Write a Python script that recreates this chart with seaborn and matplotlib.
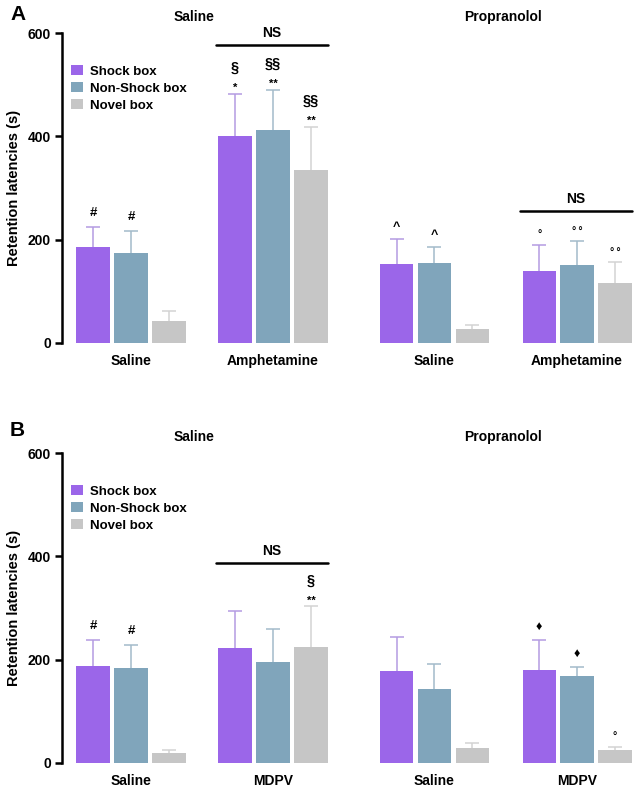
import numpy as np
import pandas as pd
import matplotlib
matplotlib.use("Agg")
import matplotlib.pyplot as plt
import matplotlib.transforms as mtransforms
from matplotlib.patches import Patch
import seaborn as sns

# ---------------- data ----------------
boxes = ["Shock box", "Non-Shock box", "Novel box"]
groups_A = ["Saline", "Amphetamine", "Saline", "Amphetamine"]
groups_B = ["Saline", "MDPV", "Saline", "MDPV"]
pretreat = ["Saline", "Propranolol"]

# means per box, in group order
A_shock = [186, 400, 153, 140]
A_nonshock = [173, 413, 154, 150]
A_novel = [43, 335, 26, 115]
# upper SEM (error bar top minus mean)
A_shock_err = [38, 82, 48, 50]
A_nonshock_err = [44, 78, 32, 48]
A_novel_err = [18, 83, 8, 41]

B_shock = [187, 223, 178, 180]
B_nonshock = [184, 196, 143, 168]
B_novel = [19, 224, 28, 25]
B_shock_err = [51, 72, 65, 58]
B_nonshock_err = [44, 63, 48, 18]
B_novel_err = [6, 79, 11, 5]

# significance marks: (group index, box index, upper mark, lower mark)
A_marks = [(0, 0, None, "#"), (0, 1, None, "#"),
           (1, 0, "§", "*"), (1, 1, "§§", "**"), (1, 2, "§§", "**"),
           (2, 0, None, "^"), (2, 1, None, "^"),
           (3, 0, None, "°"), (3, 1, None, "°\u2009°"), (3, 2, None, "°\u2009°")]
B_marks = [(0, 0, None, "#"), (0, 1, None, "#"),
           (1, 2, "§", "**"),
           (3, 0, None, "♦"), (3, 1, None, "♦"), (3, 2, None, "°")]
# NS brackets: (group index, y value)
A_ns = [(1, 578), (3, 256)]
B_ns = [(1, 388)]

# ---------------- style ----------------
bar_colors = ["#9B66E9", "#80A5BB", "#C6C6C6"]
err_colors = ["#B49BE2", "#A3BBCA", "#D3D3D3"]
group_pos = [0.0, 1.0, 2.137, 3.141]   # layout positions (wider gap between blocks)

W, H, DPI = 638, 787, 100
sns.set_theme(style="white")
plt.rcParams["font.family"] = ["Liberation Sans", "DejaVu Sans"]
plt.rcParams["font.weight"] = "bold"
plt.rcParams["text.color"] = "black"
plt.rcParams["axes.labelcolor"] = "black"
plt.rcParams["xtick.color"] = "black"
plt.rcParams["ytick.color"] = "black"

fig = plt.figure(figsize=(W / DPI, H / DPI), dpi=DPI)

def px_to_pt(px):
    return px * 72.0 / DPI

def draw_panel(ax, groups, means, errs, marks, ns_list, letter, title_y_px, letter_y_px):
    rows = []
    for b, box in enumerate(boxes):
        for g in range(len(groups)):
            rows.append({"pos": group_pos[g], "box": box, "val": means[b][g]})
    df = pd.DataFrame(rows)
    sns.barplot(data=df, x="pos", y="val", hue="box", hue_order=boxes,
                palette=bar_colors, native_scale=True, errorbar=None,
                width=0.8, gap=0.12, saturation=1, legend=False, ax=ax,
                linewidth=0)
    bar_conts = list(ax.containers)
    tops = {}
    for b, cont in enumerate(bar_conts):
        for g, bar in enumerate(cont):
            xc = bar.get_x() + bar.get_width() / 2
            h = bar.get_height()
            eb = ax.errorbar([xc], [h], yerr=[[0], [errs[b][g]]], fmt="none",
                             ecolor=err_colors[b], elinewidth=1.1, capsize=5,
                             capthick=1.1, zorder=1)
            caps = eb[1]
            if len(caps) > 1:
                caps[0].remove()
            tops[(g, b)] = (xc, h + errs[b][g])
    for cont in bar_conts:
        for bar in cont:
            bar.set_zorder(2)

    for g, b, up, low in marks:
        xc, yt = tops[(g, b)]
        if low is not None:
            if "*" in low:
                off, fs = 6, 8
            elif "°" in low:
                off, fs = 10, 7.5
            elif low == "♦":
                off, fs = 13, 9
            elif low == "^":
                off, fs = 12, 9
            else:
                off, fs = 14, 9.5
            ax.annotate(low, (xc, yt), xytext=(0, px_to_pt(off)),
                        textcoords="offset points", ha="center", va="center",
                        fontsize=fs, fontweight="bold", color="black",
                        family=["Liberation Sans", "DejaVu Sans"])
        if up is not None:
            ax.annotate(up, (xc, yt), xytext=(0, px_to_pt(26)),
                        textcoords="offset points", ha="center", va="center",
                        fontsize=10.5, fontweight="bold", color="black")

    for g, yv in ns_list:
        x0 = tops[(g, 0)][0] - 0.117 - 0.02
        x1 = tops[(g, 2)][0] + 0.117 + 0.005
        ax.plot([x0, x1], [yv, yv], color="black", lw=1.8, clip_on=False)
        ax.annotate("NS", ((x0 + x1) / 2, yv), xytext=(0, px_to_pt(12)),
                    textcoords="offset points", ha="center", va="center",
                    fontsize=10, fontweight="bold")

    ax.set_xlim(-0.486, 3.556)
    ax.set_ylim(0, 600)
    ax.set_yticks([0, 200, 400, 600])
    ax.set_yticklabels(["0", "200", "400", "600"], fontsize=10, fontweight="bold")
    ax.set_xticks(group_pos)
    ax.set_xticklabels(groups, fontsize=10, fontweight="bold")
    ax.tick_params(axis="x", length=0, pad=8)
    ax.tick_params(axis="y", length=5, width=1.8, pad=3, left=True, direction="out")
    for s in ["top", "right", "bottom"]:
        ax.spines[s].set_visible(False)
    ax.spines["left"].set_linewidth(1.8)
    ax.spines["left"].set_color("black")
    ax.set_xlabel("")
    ax.set_ylabel("Retention latencies (s)", fontsize=10.5, fontweight="bold", labelpad=5)
    ax.set_facecolor("none")

    handles = [Patch(facecolor=c, edgecolor="none") for c in bar_colors]
    ax.legend(handles, boxes, loc="upper left", bbox_to_anchor=(0.005, 0.918),
              frameon=False, handlelength=0.9, handleheight=0.8,
              handletextpad=0.5, labelspacing=0.32, borderpad=0,
              prop={"weight": "bold", "size": 9.5})

    trans = mtransforms.blended_transform_factory(ax.transData, fig.transFigure)
    fig.text(0.447, 1 - title_y_px / H, pretreat[0], transform=trans,
             ha="center", va="center", fontsize=10, fontweight="bold")
    fig.text(2.622, 1 - title_y_px / H, pretreat[1], transform=trans,
             ha="center", va="center", fontsize=10, fontweight="bold")
    fig.text(10 / W, 1 - letter_y_px / H, letter, ha="left", va="center",
             fontsize=15, fontweight="bold")

left = 62 / W
width = (636 - 62) / W
hA_bot, hA_top = 342.7, 33.3
hB_bot, hB_top = 762.7, 453.3
axA = fig.add_axes([left, 1 - hA_bot / H, width, (hA_bot - hA_top) / H])
axB = fig.add_axes([left, 1 - hB_bot / H, width, (hB_bot - hB_top) / H])

draw_panel(axA, groups_A, [A_shock, A_nonshock, A_novel],
           [A_shock_err, A_nonshock_err, A_novel_err], A_marks, A_ns, "A", 17, 15)
draw_panel(axB, groups_B, [B_shock, B_nonshock, B_novel],
           [B_shock_err, B_nonshock_err, B_novel_err], B_marks, B_ns, "B", 437, 430)

fig.savefig("out.png", dpi=DPI)
